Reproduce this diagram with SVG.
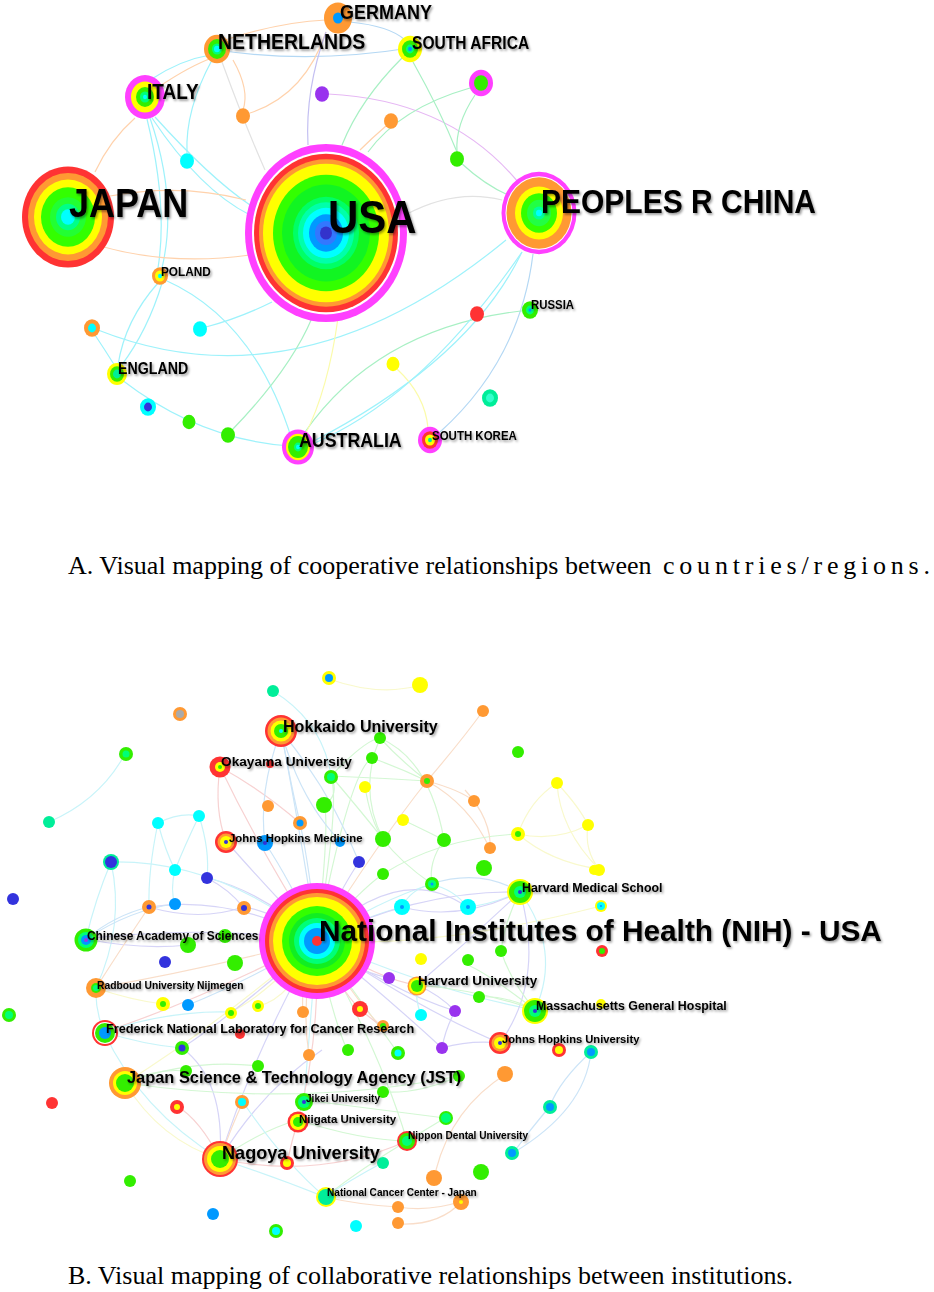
<svg xmlns="http://www.w3.org/2000/svg" width="934" height="1292" viewBox="0 0 934 1292">
<defs>
<filter id="ts" x="-5%" y="-30%" width="115%" height="170%">
<feDropShadow dx="1.4" dy="1.6" stdDeviation="0.9" flood-color="#000" flood-opacity="0.4"/>
</filter>
<style>
.m{fill:#ff40ff}.w{fill:#ffffff}.r{fill:#ff3333}.o{fill:#ff9933}.y{fill:#ffff00}.g{fill:#33ee00}.g2{fill:#22ff33}.s{fill:#00ff77}.t{fill:#00ee99}.c{fill:#00ffff}.b{fill:#0099ff}.b2{fill:#3377ff}.d{fill:#3333dd}.p{fill:#9933ee}.gr{fill:#aaaaaa}
.lab{font-family:"Liberation Sans",Arial,sans-serif;font-weight:bold;fill:#000;filter:url(#ts)}
.cap{font-family:"Liberation Serif","Times New Roman",serif;fill:#000}
#edges-a path,#edges-b path{fill:none;stroke-width:1.2}
.e1{stroke:#ffd2ac}.e2{stroke:#9ef2fb}.e3{stroke:#a8f0c4}.e4{stroke:#c4c0f2}.e5{stroke:#e6b8f4}.e6{stroke:#e2e2e2}.e7{stroke:#fbfbaa}.e8{stroke:#b4d8f4}
.f1{stroke:#f8d8c0}.f2{stroke:#bff2f8}.f3{stroke:#ccf6cc}.f4{stroke:#cfcdf6}.f5{stroke:#f6caca}.f7{stroke:#f8f8c4}.f8{stroke:#c4e0f6}
#edges-b{opacity:0.85}
</style>
</defs>
<rect width="934" height="1292" fill="#ffffff"/>

<!-- ============ PANEL A edges ============ -->
<g id="edges-a">
<path class="e8" d="M217,50 Q310,64 410,48"/>
<path class="e1" d="M225,40 Q280,22 326,20"/>
<path class="e8" d="M350,22 Q390,26 405,40"/>
<path class="e2" d="M150,80 Q180,60 210,55"/>
<path class="e1" d="M160,86 Q190,66 212,58"/>
<path class="e1" d="M135,118 Q110,140 95,172"/>
<path class="e2" d="M152,118 Q200,190 250,215"/>
<path class="e2" d="M155,117 Q210,178 250,205"/>
<path class="e2" d="M150,118 Q178,200 162,268"/>
<path class="e2" d="M147,119 Q168,205 158,268"/>
<path class="e2" d="M212,60 Q185,110 187,153"/>
<path class="e1" d="M233,60 Q250,90 243,110"/>
<path class="e1" d="M250,113 Q305,95 326,32"/>
<path class="e6" d="M222,62 Q245,125 265,170"/>
<path class="e4" d="M326,32 Q305,90 308,145"/>
<path class="e5" d="M328,94 Q450,100 518,182"/>
<path class="e3" d="M402,58 Q360,100 342,145"/>
<path class="e3" d="M413,62 Q440,110 457,152"/>
<path class="e3" d="M475,95 Q455,125 457,152"/>
<path class="e3" d="M470,88 Q400,108 368,152"/>
<path class="e3" d="M461,163 Q485,185 508,195"/>
<path class="e1" d="M386,126 Q372,138 360,150"/>
<path class="e1" d="M110,196 Q180,183 246,200"/>
<path class="e1" d="M100,246 Q170,266 250,255"/>
<path class="e6" d="M405,215 Q455,188 502,200"/>
<path class="e2" d="M506,240 Q300,410 98,330"/>
<path class="e2" d="M522,252 Q470,360 312,442"/>
<path class="e8" d="M533,254 Q520,360 440,432"/>
<path class="e3" d="M305,432 Q380,325 530,310"/>
<path class="e7" d="M397,369 Q425,395 428,428"/>
<path class="e2" d="M122,380 Q200,440 290,446"/>
<path class="e2" d="M158,283 Q125,320 118,365"/>
<path class="e2" d="M162,283 Q148,330 121,366"/>
<path class="e2" d="M165,280 Q255,320 292,440"/>
<path class="e3" d="M232,430 Q290,370 312,318"/>
<path class="e7" d="M338,318 Q328,390 305,435"/>
<path class="e2" d="M206,327 Q240,318 272,302"/>
<path class="e2" d="M95,335 Q105,350 115,366"/>
<path class="e2" d="M310,445 Q420,400 522,252"/>
</g>

<!-- ============ PANEL A nodes ============ -->
<g id="a-usa">
<g transform="translate(326,233) scale(1,1.1)">
<circle r="81" class="m"/><circle r="74" class="w"/><circle r="72" class="r"/><circle r="67" class="o"/><circle r="63" class="y"/><circle r="53" fill="#33ff00"/><circle r="44" fill="#11f522"/><circle r="33" fill="#00ff66"/><circle r="28" fill="#00ffaa"/><circle r="23" class="c"/><circle r="17" class="b"/><circle r="11" class="b2"/><circle r="6" fill="#3333cc"/>
</g>
</g>
<g id="a-japan">
<g transform="translate(68,217) scale(1,1.1)">
<circle r="46" class="r"/><circle r="40" class="o"/><circle r="34" class="y"/><circle r="27" fill="#33ff00"/><circle r="18" class="g2"/><circle r="12" fill="#00ff88"/><circle r="7" class="c"/>
</g>
</g>
<g id="a-china">
<g transform="translate(539,213) scale(1,1.1)">
<circle r="37.5" class="m"/><circle r="33.5" class="w"/><circle r="32.5" class="o"/><circle r="24" class="y"/><circle r="18" fill="#33ff00"/><circle r="12" fill="#22ff44"/><circle r="6" fill="#00ff99"/><circle r="3" class="c"/>
</g>
</g>
<g id="a-germany"><g transform="translate(338,18) scale(1,1.1)"><circle r="14" class="o"/><circle r="5" class="b"/></g></g>
<g id="a-netherlands"><g transform="translate(217,49) scale(1,1.1)"><circle r="13" class="o"/><circle r="9" class="g"/><circle r="5" class="s"/><circle r="3" class="c"/></g></g>
<g id="a-southafrica"><g transform="translate(410,49) scale(1,1.1)"><circle r="12" class="y"/><circle r="8" class="g"/><circle r="4" class="s"/><circle r="2" class="b"/></g></g>
<g id="a-italy"><g transform="translate(145,97) scale(1,1.1)"><circle r="20" class="m"/><circle r="14" class="y"/><circle r="9" class="g"/><circle r="5" class="s"/><circle r="2" class="c"/></g></g>
<g id="a-mag1"><g transform="translate(481,83) scale(1,1.1)"><circle r="12" class="m"/><circle r="7" class="g"/></g></g>
<g id="a-poland"><g transform="translate(160,276) scale(1,1.1)"><circle r="8" class="o"/><circle r="5" class="y"/><circle r="2" class="c"/></g></g>
<g id="a-n1"><g transform="translate(92,328) scale(1,1.1)"><circle r="8" class="o"/><circle r="4" class="c"/></g></g>
<g id="a-n2"><g transform="translate(200,329) scale(1,1.1)"><circle r="7" class="c"/></g></g>
<g id="a-england"><g transform="translate(117,374) scale(1,1.1)"><circle r="10" class="y"/><circle r="7" class="g"/><circle r="4" class="t"/></g></g>
<g id="a-n3"><g transform="translate(148,407) scale(1,1.1)"><circle r="8" class="c"/><circle r="4" class="d"/></g></g>
<g id="a-n4"><g transform="translate(189,422) scale(1,1.1)"><circle r="6.5" class="g"/></g></g>
<g id="a-n5"><g transform="translate(228,435) scale(1,1.1)"><circle r="7" class="g"/></g></g>
<g id="a-australia"><g transform="translate(298,447) scale(1,1.1)"><circle r="16" class="m"/><circle r="12" class="y"/><circle r="10" class="g"/><circle r="4" class="s"/><circle r="2" class="c"/></g></g>
<g id="a-n6"><g transform="translate(393,364) scale(1,1.1)"><circle r="6.5" class="y"/></g></g>
<g id="a-southkorea"><g transform="translate(430,440) scale(1,1.1)"><circle r="12" class="m"/><circle r="8" class="r"/><circle r="5" class="y"/><circle r="2" class="t"/></g></g>
<g id="a-n7"><g transform="translate(477,314) scale(1,1.1)"><circle r="7" class="r"/></g></g>
<g id="a-russia"><g transform="translate(530,310) scale(1,1.1)"><circle r="8" class="g"/><circle r="4" class="s"/><circle r="1.5" class="b"/></g></g>
<g id="a-n8"><g transform="translate(490,398) scale(1,1.1)"><circle r="8" class="t"/><circle r="4" fill="#33ffcc"/></g></g>
<g id="a-n9"><g transform="translate(322,94) scale(1,1.1)"><circle r="7" class="p"/></g></g>
<g id="a-n10"><g transform="translate(243,116) scale(1,1.1)"><circle r="7" class="o"/></g></g>
<g id="a-n11"><g transform="translate(391,121) scale(1,1.1)"><circle r="7" class="o"/></g></g>
<g id="a-n12"><g transform="translate(187,161) scale(1,1.1)"><circle r="7" class="c"/></g></g>
<g id="a-n13"><g transform="translate(457,159) scale(1,1.1)"><circle r="7" class="g"/></g></g>

<!-- Panel A labels -->
<g id="a-labels">
<text class="lab" font-size="36" transform="translate(69,217) scale(1,1.12)">JAPAN</text>
<text class="lab" font-size="42" transform="translate(328,233) scale(1,1.12)">USA</text>
<text class="lab" font-size="30" transform="translate(541,213) scale(1,1.12)">PEOPLES R CHINA</text>
<text class="lab" font-size="18" transform="translate(340,19) scale(1,1.12)">GERMANY</text>
<text class="lab" font-size="19.5" transform="translate(218,49) scale(1,1.12)">NETHERLANDS</text>
<text class="lab" font-size="15.6" transform="translate(412,49) scale(1,1.12)">SOUTH AFRICA</text>
<text class="lab" font-size="19" transform="translate(147,99) scale(1,1.12)">ITALY</text>
<text class="lab" font-size="11.8" transform="translate(161,276) scale(1,1.12)">POLAND</text>
<text class="lab" font-size="14.2" transform="translate(118,374) scale(1,1.12)">ENGLAND</text>
<text class="lab" font-size="17.8" transform="translate(299,447) scale(1,1.12)">AUSTRALIA</text>
<text class="lab" font-size="11.5" transform="translate(432,440) scale(1,1.12)">SOUTH KOREA</text>
<text class="lab" font-size="11.4" transform="translate(531,309) scale(1,1.12)">RUSSIA</text>
</g>

<text class="cap" font-size="26" x="68" y="574">A. Visual mapping of cooperative relationships between <tspan x="663" textLength="267" lengthAdjust="spacing">countries/regions.</tspan></text>

<!-- ============ PANEL B edges ============ -->
<g id="edges-b">
<path class="f8" d="M317,940 Q300,830 281,731"/>
<path class="f5" d="M317,940 Q260,850 220,767"/>
<path class="f4" d="M317,940 Q260,880 226,841"/>
<path class="f8" d="M317,940 Q290,880 265,843"/>
<path class="f8" d="M317,940 Q310,870 300,823"/>
<path class="f4" d="M317,940 Q340,890 359,862"/>
<path class="f3" d="M317,940 Q360,890 383,874"/>
<path class="f2" d="M317,940 Q380,900 432,884"/>
<path class="f2" d="M317,940 Q370,915 402,907"/>
<path class="f4" d="M317,940 Q420,890 520,892"/>
<path class="f5" d="M317,940 Q380,980 417,985"/>
<path class="f2" d="M317,940 Q430,990 535,1010"/>
<path class="f4" d="M317,940 Q420,1010 500,1043"/>
<path class="f4" d="M317,940 Q350,970 389,978"/>
<path class="f4" d="M317,940 Q390,990 455,1011"/>
<path class="f5" d="M317,940 Q200,1000 104,1032"/>
<path class="f4" d="M317,940 Q200,925 86,939"/>
<path class="f1" d="M317,940 Q200,970 96,988"/>
<path class="f4" d="M317,940 Q270,910 243,907"/>
<path class="f4" d="M317,940 Q230,895 149,907"/>
<path class="f4" d="M317,940 Q260,890 207,878"/>
<path class="f7" d="M317,940 Q210,1030 125,1083"/>
<path class="f4" d="M317,940 Q250,1060 220,1159"/>
<path class="f2" d="M317,940 Q310,1030 304,1100"/>
<path class="f3" d="M317,940 Q380,1050 407,1141"/>
<path class="f5" d="M317,940 Q320,1040 298,1120"/>
<path class="f5" d="M317,940 Q340,990 360,1009"/>
<path class="f3" d="M317,940 Q360,1000 398,1053"/>
<path class="f1" d="M317,940 Q300,980 303,1012"/>
<path class="f7" d="M317,940 Q430,950 601,906"/>
<path class="f7" d="M317,940 Q290,1000 258,1006"/>
<path class="f7" d="M317,940 Q260,1000 230,1012"/>
<path class="f8" d="M317,940 Q250,980 188,1005"/>
<path class="f4" d="M317,940 Q240,1010 182,1048"/>
<path class="f3" d="M317,940 Q330,1010 347,1050"/>
<path class="f4" d="M317,940 Q390,1000 442,1048"/>
<path class="f1" d="M317,940 Q370,1020 383,1027"/>
<path class="f2" d="M317,940 Q220,860 111,862"/>
<path class="f3" d="M317,940 Q340,800 331,776"/>
<path class="f1" d="M317,940 Q380,840 427,781"/>
<path class="f3" d="M317,940 Q330,820 324,805"/>
<path class="f3" d="M317,940 Q350,770 372,758"/>
<path class="f1" d="M317,940 Q300,1000 309,1055"/>
<path class="f4" d="M317,940 Q400,860 467,907"/>
<path class="f2" d="M273,691 Q320,720 330,770"/>
<path class="f7" d="M329,679 Q380,697 420,685"/>
<path class="f2" d="M125,754 Q100,800 49,822"/>
<path class="f2" d="M158,823 Q180,812 199,816"/>
<path class="f2" d="M158,823 Q165,850 175,870"/>
<path class="f2" d="M199,816 Q185,845 175,870"/>
<path class="f2" d="M175,870 Q170,890 175,904"/>
<path class="f2" d="M158,823 Q148,870 149,907"/>
<path class="f2" d="M199,816 Q210,850 207,878"/>
<path class="f2" d="M111,862 Q95,900 86,939"/>
<path class="f2" d="M111,862 Q125,925 96,988"/>
<path class="f5" d="M220,767 Q214,810 226,841"/>
<path class="f5" d="M220,767 Q262,790 300,823"/>
<path class="f8" d="M281,731 Q258,790 265,843"/>
<path class="f8" d="M281,731 Q300,800 340,841"/>
<path class="f8" d="M281,731 Q292,790 300,823"/>
<path class="f8" d="M281,731 Q330,790 359,862"/>
<path class="f3" d="M380,738 Q400,760 427,781"/>
<path class="f3" d="M372,758 Q400,768 427,781"/>
<path class="f3" d="M331,776 Q380,778 427,781"/>
<path class="f3" d="M331,776 Q340,795 324,805"/>
<path class="f3" d="M365,786 Q370,820 383,839"/>
<path class="f1" d="M427,781 Q470,805 490,849"/>
<path class="f1" d="M427,781 Q460,790 474,801"/>
<path class="f3" d="M380,738 Q358,790 383,839"/>
<path class="f3" d="M331,776 Q360,810 383,839"/>
<path class="f3" d="M383,839 Q400,862 432,884"/>
<path class="f3" d="M444,840 Q428,862 432,884"/>
<path class="f3" d="M403,820 Q420,828 444,840"/>
<path class="f1" d="M427,781 Q462,740 483,711"/>
<path class="f3" d="M380,738 Q430,760 444,840"/>
<path class="f3" d="M331,776 Q365,740 380,738"/>
<path class="f7" d="M518,834 Q530,800 557,783"/>
<path class="f7" d="M557,783 Q580,808 588,825"/>
<path class="f7" d="M557,783 Q560,830 599,869"/>
<path class="f7" d="M518,834 Q555,842 588,825"/>
<path class="f7" d="M518,834 Q550,862 599,869"/>
<path class="f7" d="M588,825 Q584,850 599,869"/>
<path class="f3" d="M518,834 Q440,838 383,874"/>
<path class="f1" d="M465,790 Q492,820 490,849"/>
<path class="f8" d="M520,892 Q480,868 431,884"/>
<path class="f2" d="M520,892 Q490,905 467,907"/>
<path class="f4" d="M520,892 Q460,922 402,907"/>
<path class="f2" d="M520,892 Q562,950 535,1010"/>
<path class="f4" d="M520,892 Q470,940 417,985"/>
<path class="f3" d="M520,892 Q505,920 501,951"/>
<path class="f4" d="M520,892 Q545,980 500,1043"/>
<path class="f2" d="M431,884 Q410,890 402,907"/>
<path class="f2" d="M431,884 Q455,890 467,907"/>
<path class="f3" d="M535,1010 Q505,995 479,997"/>
<path class="f3" d="M535,1010 Q490,975 468,965"/>
<path class="f3" d="M535,1010 Q510,980 501,951"/>
<path class="f4" d="M417,985 Q440,995 455,1011"/>
<path class="f2" d="M417,985 Q415,1000 421,1015"/>
<path class="f3" d="M417,985 Q480,990 535,1010"/>
<path class="f4" d="M455,1011 Q445,1030 442,1048"/>
<path class="f4" d="M500,1043 Q470,1040 442,1048"/>
<path class="f8" d="M591,1052 Q560,1080 550,1106"/>
<path class="f8" d="M591,1052 Q585,1110 513,1153"/>
<path class="f8" d="M550,1106 Q530,1130 513,1153"/>
<path class="f1" d="M506,1074 Q452,1108 436,1170"/>
<path class="f1" d="M398,1207 Q430,1212 462,1201"/>
<path class="f1" d="M398,1224 Q440,1226 462,1201"/>
<path class="f7" d="M125,1083 Q160,1140 220,1159"/>
<path class="f3" d="M125,1083 Q155,1068 186,1071"/>
<path class="f3" d="M125,1083 Q190,1058 259,1066"/>
<path class="f4" d="M220,1159 Q225,1080 182,1048"/>
<path class="f4" d="M220,1159 Q262,1090 322,1050"/>
<path class="f5" d="M220,1159 Q200,1120 177,1106"/>
<path class="f1" d="M220,1159 Q232,1125 243,1102"/>
<path class="f2" d="M220,1159 Q270,1175 325,1197"/>
<path class="f5" d="M220,1159 Q320,1180 407,1141"/>
<path class="f3" d="M220,1159 Q262,1130 298,1120"/>
<path class="f2" d="M243,1102 Q282,1160 325,1197"/>
<path class="f3" d="M298,1120 Q360,1140 407,1141"/>
<path class="f3" d="M304,1100 Q380,1110 445,1118"/>
<path class="f3" d="M445,1118 Q425,1130 407,1141"/>
<path class="f3" d="M407,1141 Q362,1168 325,1197"/>
<path class="f2" d="M382,1163 Q350,1180 325,1197"/>
<path class="f3" d="M125,1083 Q300,1108 459,1076"/>
<path class="f3" d="M459,1076 Q420,1094 383,1092"/>
<path class="f1" d="M325,1197 Q360,1205 398,1207"/>
<path class="f8" d="M86,939 Q115,915 149,907"/>
<path class="f8" d="M86,939 Q130,910 175,904"/>
<path class="f4" d="M86,939 Q140,950 188,945"/>
<path class="f4" d="M149,907 Q200,922 243,907"/>
<path class="f1" d="M149,907 Q120,950 96,988"/>
<path class="f2" d="M96,988 Q95,1010 104,1032"/>
<path class="f7" d="M96,988 Q130,1000 163,1004"/>
<path class="f2" d="M104,1032 Q145,1045 182,1048"/>
<path class="f2" d="M104,1032 Q170,1010 230,1012"/>
<path class="f2" d="M104,1032 Q140,1110 220,1159"/>
<path class="f4" d="M207,878 Q230,890 243,907"/>
<path class="f5" d="M360,1009 Q372,1020 383,1027"/>
<path class="f5" d="M287,1163 Q292,1140 298,1120"/>
</g>

<!-- ============ PANEL B nodes (unlabelled) ============ -->
<g id="b-nodes">
<g id="b1"><circle cx="329" cy="678" r="7" class="y"/><circle cx="329" cy="678" r="4" class="b"/></g>
<g id="b2"><circle cx="420" cy="685" r="8" class="y"/></g>
<g id="b3"><circle cx="273" cy="691" r="6" class="t"/></g>
<g id="b4"><circle cx="180" cy="714" r="7" class="o"/><circle cx="180" cy="714" r="4" class="gr"/></g>
<g id="b5"><circle cx="270" cy="764" r="4" class="r"/></g>
<g id="b6"><circle cx="126" cy="754" r="7" class="g"/><circle cx="126" cy="754" r="3.5" class="s"/></g>
<g id="b7"><circle cx="49" cy="822" r="6" class="t"/></g>
<g id="b8"><circle cx="380" cy="738" r="6" class="g"/></g>
<g id="b9"><circle cx="372" cy="758" r="6" class="g"/></g>
<g id="b10"><circle cx="331" cy="777" r="7" class="g"/><circle cx="331" cy="777" r="4" class="s"/></g>
<g id="b11"><circle cx="365" cy="787" r="6" class="y"/></g>
<g id="b12"><circle cx="427" cy="781" r="7" class="o"/><circle cx="427" cy="781" r="3" class="g"/></g>
<g id="b13"><circle cx="324" cy="805" r="8" class="g"/></g>
<g id="b14"><circle cx="268" cy="806" r="6" class="o"/></g>
<g id="b15"><circle cx="403" cy="820" r="6" class="y"/></g>
<g id="b16"><circle cx="158" cy="823" r="6" class="c"/></g>
<g id="b17"><circle cx="199" cy="816" r="6" class="c"/></g>
<g id="b18"><circle cx="300" cy="823" r="7" class="o"/><circle cx="300" cy="823" r="3.5" class="b"/></g>
<g id="b19"><circle cx="265" cy="843" r="8" class="b"/><circle cx="265" cy="843" r="2" class="d"/></g>
<g id="b20"><circle cx="340" cy="842" r="5" class="b"/></g>
<g id="b21"><circle cx="383" cy="839" r="8" class="g"/></g>
<g id="b22"><circle cx="444" cy="840" r="7" class="g"/></g>
<g id="b23"><circle cx="359" cy="862" r="6" class="d"/></g>
<g id="b24"><circle cx="111" cy="862" r="8" class="t"/><circle cx="111" cy="862" r="6" class="d"/></g>
<g id="b25"><circle cx="175" cy="870" r="6" class="c"/></g>
<g id="b26"><circle cx="383" cy="874" r="6" class="g"/></g>
<g id="b27"><circle cx="432" cy="884" r="7" class="g"/><circle cx="432" cy="884" r="4" class="s"/><circle cx="432" cy="884" r="1.5" class="b"/></g>
<g id="b28"><circle cx="207" cy="878" r="6" class="d"/></g>
<g id="b29"><circle cx="402" cy="907" r="8" class="c"/><circle cx="402" cy="907" r="2" class="b"/></g>
<g id="b30"><circle cx="468" cy="907" r="8" class="c"/><circle cx="468" cy="907" r="2" class="b"/></g>
<g id="b31"><circle cx="244" cy="908" r="7" class="o"/><circle cx="244" cy="908" r="3" class="d"/></g>
<g id="b32"><circle cx="175" cy="904" r="6" class="b"/></g>
<g id="b33"><circle cx="149" cy="907" r="7" class="o"/><circle cx="149" cy="907" r="2.5" class="d"/></g>
<g id="b34"><circle cx="13" cy="899" r="6" class="d"/></g>
<g id="b35"><circle cx="188" cy="945" r="8" class="g"/></g>
<g id="b36"><circle cx="225" cy="936" r="7" class="g"/></g>
<g id="b37"><circle cx="165" cy="962" r="6" class="d"/></g>
<g id="b38"><circle cx="235" cy="963" r="8" class="g"/></g>
<g id="b39"><circle cx="9" cy="1015" r="7" class="g"/><circle cx="9" cy="1015" r="4" class="s"/></g>
<g id="b40"><circle cx="163" cy="1004" r="7" class="y"/><circle cx="163" cy="1004" r="3" class="g"/></g>
<g id="b41"><circle cx="188" cy="1005" r="6" class="b"/></g>
<g id="b42"><circle cx="231" cy="1013" r="6" class="y"/><circle cx="231" cy="1013" r="3" class="g"/></g>
<g id="b43"><circle cx="258" cy="1006" r="6" class="y"/><circle cx="258" cy="1006" r="3" class="g"/></g>
<g id="b44"><circle cx="303" cy="1012" r="6" class="o"/></g>
<g id="b45"><circle cx="360" cy="1009" r="8" class="r"/><circle cx="360" cy="1009" r="3" class="y"/></g>
<g id="b46"><circle cx="389" cy="978" r="6" class="p"/></g>
<g id="b47"><circle cx="421" cy="959" r="6" class="y"/></g>
<g id="b48"><circle cx="421" cy="1015" r="6" class="c"/></g>
<g id="b49"><circle cx="455" cy="1011" r="6" class="p"/></g>
<g id="b50"><circle cx="383" cy="1026" r="6" class="o"/><circle cx="383" cy="1026" r="3" class="g"/></g>
<g id="b51"><circle cx="240" cy="1034" r="5" class="r"/></g>
<g id="b52"><circle cx="182" cy="1048" r="7" class="g"/><circle cx="182" cy="1048" r="3.5" class="d"/></g>
<g id="b53"><circle cx="309" cy="1055" r="6" class="o"/></g>
<g id="b54"><circle cx="348" cy="1050" r="6" class="g"/></g>
<g id="b55"><circle cx="398" cy="1053" r="7" class="g"/><circle cx="398" cy="1053" r="3.5" class="c"/></g>
<g id="b56"><circle cx="442" cy="1048" r="6" class="p"/></g>
<g id="b57"><circle cx="484" cy="868" r="8" class="g"/></g>
<g id="b58"><circle cx="594" cy="870" r="5" class="y"/></g>
<g id="b59"><circle cx="601" cy="906" r="6" class="y"/><circle cx="601" cy="906" r="4" class="c"/><circle cx="601" cy="906" r="1" class="b"/></g>
<g id="b60"><circle cx="602" cy="951" r="6" class="r"/><circle cx="602" cy="951" r="3" class="g"/></g>
<g id="b61"><circle cx="468" cy="960" r="6" class="g"/></g>
<g id="b62"><circle cx="501" cy="951" r="6" class="g"/></g>
<g id="b63"><circle cx="479" cy="997" r="6" class="g"/></g>
<g id="b64"><circle cx="601" cy="1004" r="5" class="y"/></g>
<g id="b65"><circle cx="559" cy="1050" r="7" class="r"/><circle cx="559" cy="1050" r="4" class="y"/></g>
<g id="b66"><circle cx="591" cy="1052" r="7" class="t"/><circle cx="591" cy="1052" r="4" class="b"/></g>
<g id="b67"><circle cx="483" cy="711" r="6" class="o"/></g>
<g id="b68"><circle cx="518" cy="752" r="6" class="g"/></g>
<g id="b69"><circle cx="557" cy="783" r="6" class="y"/></g>
<g id="b70"><circle cx="474" cy="801" r="6" class="o"/></g>
<g id="b71"><circle cx="588" cy="825" r="6" class="y"/></g>
<g id="b72"><circle cx="518" cy="834" r="7" class="y"/><circle cx="518" cy="834" r="3" class="g"/></g>
<g id="b73"><circle cx="490" cy="848" r="6" class="o"/></g>
<g id="b74"><circle cx="599" cy="870" r="6" class="y"/></g>
<g id="b75"><circle cx="186" cy="1071" r="6" class="g"/></g>
<g id="b76"><circle cx="258" cy="1066" r="6" class="g"/></g>
<g id="b77"><circle cx="52" cy="1103" r="6" class="r"/></g>
<g id="b78"><circle cx="177" cy="1107" r="7" class="r"/><circle cx="177" cy="1107" r="3" class="y"/></g>
<g id="b79"><circle cx="242" cy="1102" r="7" class="o"/><circle cx="242" cy="1102" r="4" class="c"/></g>
<g id="b80"><circle cx="383" cy="1092" r="6" class="g"/></g>
<g id="b81"><circle cx="459" cy="1076" r="6" class="g"/></g>
<g id="b82"><circle cx="446" cy="1118" r="7" class="g"/><circle cx="446" cy="1118" r="5" class="s"/></g>
<g id="b83"><circle cx="287" cy="1163" r="7" class="r"/><circle cx="287" cy="1163" r="4" class="y"/></g>
<g id="b84"><circle cx="383" cy="1163" r="6" class="t"/></g>
<g id="b85"><circle cx="434" cy="1178" r="8" class="o"/></g>
<g id="b86"><circle cx="130" cy="1181" r="6" class="g"/></g>
<g id="b87"><circle cx="398" cy="1207" r="6" class="o"/></g>
<g id="b88"><circle cx="398" cy="1223" r="6" class="o"/></g>
<g id="b89"><circle cx="461" cy="1202" r="8" class="o"/><circle cx="461" cy="1202" r="2" class="y"/></g>
<g id="b90"><circle cx="213" cy="1214" r="6" class="b"/></g>
<g id="b91"><circle cx="356" cy="1226" r="6" class="c"/></g>
<g id="b92"><circle cx="276" cy="1231" r="7" class="g"/><circle cx="276" cy="1231" r="4" class="c"/></g>
<g id="b93"><circle cx="481" cy="1172" r="8" class="g"/></g>
<g id="b94"><circle cx="505" cy="1074" r="8" class="o"/></g>
<g id="b95"><circle cx="550" cy="1107" r="7" class="t"/><circle cx="550" cy="1107" r="4" class="b"/></g>
<g id="b96"><circle cx="512" cy="1153" r="7" class="t"/><circle cx="512" cy="1153" r="4" class="b"/></g>
</g>

<!-- ============ PANEL B labelled nodes ============ -->
<g id="b-nih">
<circle cx="317" cy="941" r="58" class="m"/><circle cx="317" cy="941" r="52" class="r"/><circle cx="317" cy="941" r="48" class="o"/><circle cx="317" cy="941" r="44" class="y"/><circle cx="317" cy="941" r="35" fill="#33ff00"/><circle cx="317" cy="941" r="28" fill="#11ee22"/><circle cx="317" cy="941" r="23" fill="#00ff77"/><circle cx="317" cy="941" r="18" class="c"/><circle cx="317" cy="941" r="13" class="b"/><circle cx="317" cy="941" r="5" class="r"/>
<text class="lab" x="319" y="941" font-size="29.8">National Institutes of Health (NIH) - USA</text>
</g>
<g id="b-hokkaido"><circle cx="281" cy="731" r="16" class="r"/><circle cx="281" cy="731" r="13.5" class="o"/><circle cx="281" cy="731" r="10.5" class="y"/><circle cx="281" cy="731" r="7" class="g"/><circle cx="281" cy="731" r="2" class="c"/><text class="lab" x="283" y="732" font-size="16.1">Hokkaido University</text></g>
<g id="b-okayama"><circle cx="220" cy="767" r="10.5" class="r"/><circle cx="220" cy="767" r="5" class="y"/><circle cx="220" cy="767" r="2" class="g"/><text class="lab" x="221" y="766" font-size="13.7">Okayama University</text></g>
<g id="b-jhm"><circle cx="226" cy="842" r="11" class="r"/><circle cx="226" cy="842" r="8.5" class="o"/><circle cx="226" cy="842" r="6" class="y"/><circle cx="226" cy="842" r="2" class="d"/><text class="lab" x="229" y="842" font-size="11.4">Johns Hopkins Medicine</text></g>
<g id="b-hms"><circle cx="520" cy="892" r="13" class="y"/><circle cx="520" cy="892" r="11" class="g"/><circle cx="520" cy="892" r="6" class="s"/><circle cx="520" cy="892" r="2" class="d"/><text class="lab" x="522" y="892" font-size="12.4">Harvard Medical School</text></g>
<g id="b-cas"><circle cx="86" cy="940" r="11.5" class="g"/><circle cx="86" cy="940" r="8" class="s"/><circle cx="86" cy="940" r="5" class="b"/><circle cx="86" cy="940" r="2" class="p"/><text class="lab" x="87" y="940" font-size="11.9">Chinese Academy of Sciences</text></g>
<g id="b-harvard"><circle cx="417" cy="986" r="9.5" class="o"/><circle cx="417" cy="986" r="8" class="y"/><circle cx="417" cy="986" r="6" class="g"/><text class="lab" x="418" y="985" font-size="13.4">Harvard University</text></g>
<g id="b-mgh"><circle cx="535" cy="1011" r="13" class="y"/><circle cx="535" cy="1011" r="11" class="g"/><circle cx="535" cy="1011" r="6" class="s"/><circle cx="535" cy="1011" r="2" class="d"/><text class="lab" x="536" y="1010" font-size="12.4">Massachusetts General Hospital</text></g>
<g id="b-radboud"><circle cx="96" cy="988" r="10" class="o"/><circle cx="96" cy="988" r="5" class="g"/><circle cx="96" cy="988" r="3" class="s"/><text class="lab" x="97" y="989" font-size="10.3">Radboud University Nijmegen</text></g>
<g id="b-frederick"><circle cx="105" cy="1033" r="13" class="r"/><circle cx="105" cy="1033" r="11" class="w"/><circle cx="105" cy="1033" r="10" class="g"/><circle cx="105" cy="1033" r="6" class="b"/><text class="lab" x="106" y="1033" font-size="12.7">Frederick National Laboratory for Cancer Research</text></g>
<g id="b-jhu"><circle cx="500" cy="1043" r="11" class="r"/><circle cx="500" cy="1043" r="8.5" class="o"/><circle cx="500" cy="1043" r="6" class="y"/><circle cx="500" cy="1043" r="2" class="d"/><text class="lab" x="502" y="1043" font-size="11.2">Johns Hopkins University</text></g>
<g id="b-jst"><circle cx="125" cy="1083" r="16" class="o"/><circle cx="125" cy="1083" r="12" class="y"/><circle cx="125" cy="1083" r="9" class="g"/><text class="lab" x="127" y="1083" font-size="16.4">Japan Science &amp; Technology Agency (JST)</text></g>
<g id="b-jikei"><circle cx="304" cy="1102" r="9" class="g"/><circle cx="304" cy="1102" r="6" class="s"/><circle cx="304" cy="1102" r="2" class="d"/><text class="lab" x="306" y="1102" font-size="10.1">Jikei University</text></g>
<g id="b-niigata"><circle cx="298" cy="1122" r="10.5" class="r"/><circle cx="298" cy="1122" r="8" class="y"/><circle cx="298" cy="1122" r="5" class="g"/><text class="lab" x="299" y="1123" font-size="11.5">Niigata University</text></g>
<g id="b-nippon"><circle cx="407" cy="1141" r="10" class="r"/><circle cx="407" cy="1141" r="8" class="g"/><circle cx="407" cy="1141" r="5" class="s"/><text class="lab" x="408" y="1139" font-size="10.1">Nippon Dental University</text></g>
<g id="b-nagoya"><circle cx="220" cy="1159" r="18" class="r"/><circle cx="220" cy="1159" r="16" class="o"/><circle cx="220" cy="1159" r="13" class="y"/><circle cx="220" cy="1159" r="9" class="g"/><text class="lab" x="222" y="1159" font-size="18.1">Nagoya University</text></g>
<g id="b-ncc"><circle cx="326" cy="1197" r="10" class="y"/><circle cx="326" cy="1197" r="8" class="t"/><text class="lab" x="327" y="1196" font-size="10.1">National Cancer Center - Japan</text></g>

<text class="cap" font-size="26" x="68" y="1284">B. Visual mapping of collaborative relationships between institutions.</text>
</svg>
